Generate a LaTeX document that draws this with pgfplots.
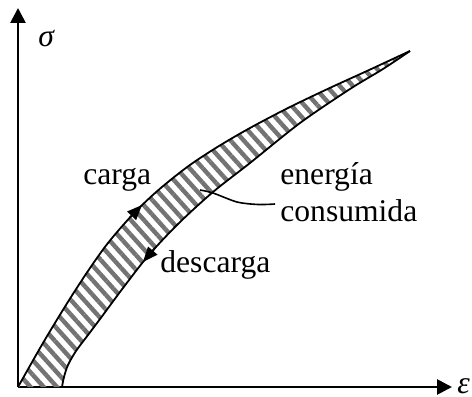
\documentclass[border=0pt]{standalone}
\usepackage{fontspec}
\setmainfont{Liberation Serif}
\usepackage{pgfplots}
\pgfplotsset{compat=1.18}
\usepgfplotslibrary{fillbetween}
\usetikzlibrary{arrows.meta,patterns.meta}

% loading branch (carga)
\pgfplotstableread{
x   y
0   0
25  44
49  83.6
70  116
90  144
115 172.8
140 196.6
170 220.6
200 240.4
232 259
270 279
310 298.2
350 316.5
392 336
}\carga

% unloading branch (descarga)
\pgfplotstableread{
x   y
44  0
46  10
50  22
58  36
70  52
85  72
105 99
130 131
160 163
195 195
232 224
282 264
332 298
365 318
392 336
}\descarga

\begin{document}
\begin{tikzpicture}[font=\fontsize{15.8bp}{19bp}\selectfont]
\begin{axis}[
  at={(0,0)}, anchor=south west,
  scale only axis, width=217bp, height=189.5bp,
  xmin=0, xmax=434, ymin=0, ymax=379,
  axis lines=left,
  axis line style={line width=1.35bp, -{Triangle[length=7.5bp,width=7.5bp]}},
  xtick=\empty, ytick=\empty,
  clip=false,
]
\addplot[name path=up, smooth, draw=none] table {\carga};
\addplot[name path=lo, smooth, draw=none] table {\descarga};

% hatched energy loop
\addplot[draw=none, pattern={Lines[angle=-48,distance=4.9bp,line width=2.2bp]}, pattern color=black!55]
  fill between[of=up and lo];

\addplot[smooth, line width=0.9bp] table {\carga};
\addplot[smooth, line width=0.9bp] table {\descarga};

% direction arrows
\addplot[line width=0.9bp, -{Triangle[length=7.5bp,width=6bp]}] coordinates {(112,169.5) (124,182)};
\addplot[line width=0.9bp, -{Triangle[length=7.5bp,width=6bp]}] coordinates {(137,139) (125,125)};

% leader line
\addplot[smooth, line width=0.8bp] coordinates {(182,197) (195,194) (219,185) (240,182.5) (257,183)};

\node[anchor=base west, inner sep=0] at (axis cs:65,202) {carga};
\node[anchor=base west, inner sep=0] at (axis cs:142,114) {descarga};
\node[anchor=base west, inner sep=0] at (axis cs:262,202) {energía};
\node[anchor=base west, inner sep=0] at (axis cs:262,165) {consumida};
\node[anchor=base west, inner sep=0] at (axis cs:20,340) {\textit{σ}};
\node[anchor=base west, inner sep=0] at (axis cs:439,-6) {\textit{ε}};
\end{axis}
\pgfresetboundingbox
\path (-9bp,-5bp) rectangle (227bp,193.5bp);
\end{tikzpicture}
\end{document}
